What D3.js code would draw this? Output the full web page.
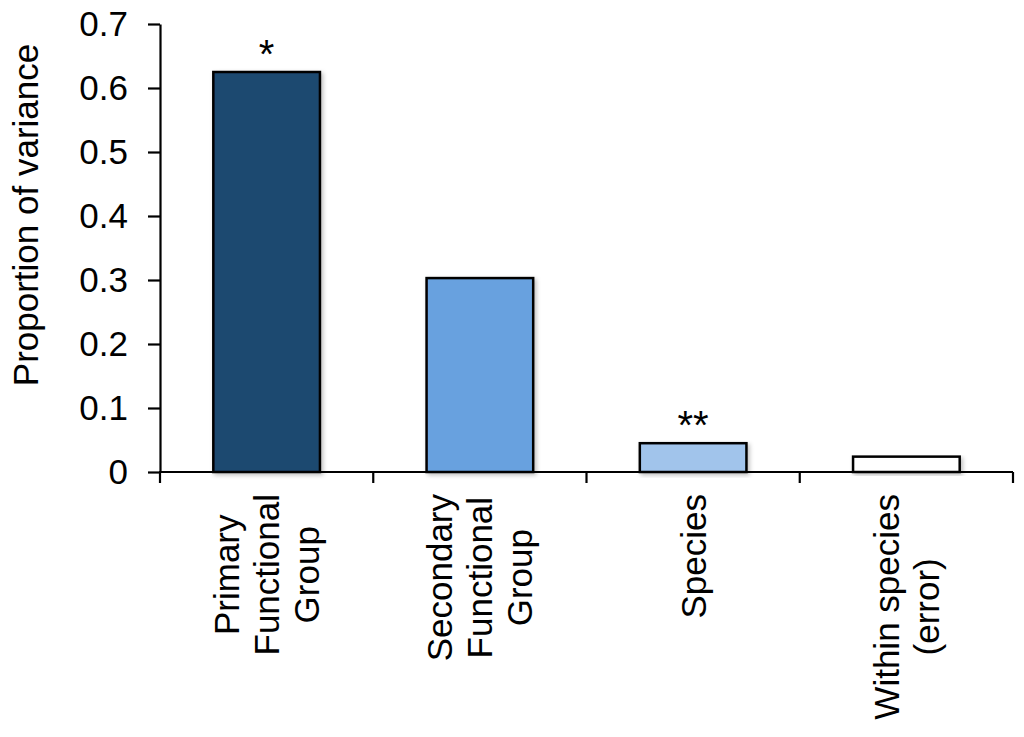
<!DOCTYPE html>
<html>
<head>
<meta charset="utf-8">
<script src="https://cdn.jsdelivr.net/npm/d3@7/dist/d3.min.js"></script>
<style>
  html, body { margin: 0; padding: 0; background: #fff; }
  svg { display: block; }
  text { font-family: "Liberation Sans", Arial, Helvetica, sans-serif; fill: #000; }
</style>
</head>
<body>
<svg id="chart" width="1024" height="737"></svg>
<script>
// ---- data ----
const categories = [
  ["Primary", "Functional", "Group"],
  ["Secondary", "Functional", "Group"],
  ["Species"],
  ["Within species", "(error)"]
];
const categoryKeys = ["Primary Functional Group", "Secondary Functional Group", "Species", "Within species (error)"];
const values = [0.625, 0.303, 0.045, 0.024];
const significance = ["*", "", "**", ""];
const barColors = ["#1f4870", "#67a1df", "#a1c4eb", "#ffffff"];
const yTicks = [0, 0.1, 0.2, 0.3, 0.4, 0.5, 0.6, 0.7];
const yLabel = "Proportion of variance";

// ---- layout ----
const svg = d3.select("#chart");
const plotLeft = 160, plotRight = 1013, plotTop = 24, plotBottom = 472;
const fontSize = 35;

const x = d3.scaleBand().domain(categoryKeys).range([plotLeft, plotRight])
  .paddingInner(0.5).paddingOuter(0.25);
const y = d3.scaleLinear().domain([0, 0.7]).range([plotBottom, plotTop]);

// shadow filter
const defs = svg.append("defs");
const f = defs.append("filter").attr("id", "shadow").attr("x", "-10%").attr("y", "-10%").attr("width", "130%").attr("height", "130%");
f.append("feDropShadow").attr("dx", 2).attr("dy", 2).attr("stdDeviation", 2)
  .attr("flood-color", "#000").attr("flood-opacity", 0.25);

// bars
svg.append("g").selectAll("rect").data(values).join("rect")
  .attr("x", (d, i) => x(categoryKeys[i]))
  .attr("y", d => y(d))
  .attr("width", x.bandwidth())
  .attr("height", d => y(0) - y(d))
  .attr("fill", (d, i) => barColors[i])
  .attr("stroke", "#000")
  .attr("stroke-width", 2.5)
  .attr("filter", "url(#shadow)");

// significance labels
svg.append("g").selectAll("text").data(values).join("text")
  .attr("x", (d, i) => x(categoryKeys[i]) + x.bandwidth() / 2)
  .attr("y", d => y(d) - 4)
  .attr("text-anchor", "middle")
  .style("font-size", "40px")
  .text((d, i) => significance[i]);

// y axis
const yAxis = d3.axisLeft(y).tickValues(yTicks).tickSize(12).tickSizeOuter(0).tickPadding(20)
  .tickFormat(d => d === 0 ? "0" : d3.format(".1f")(d));
const gy = svg.append("g").attr("transform", `translate(${plotLeft},0)`).call(yAxis);
gy.select(".domain").attr("stroke", "#000").attr("stroke-width", 2.2);
gy.selectAll(".tick line").attr("stroke", "#000").attr("stroke-width", 2.2);
gy.selectAll(".tick text").style("font-size", fontSize + "px").style("font-family", "'Liberation Sans', Arial, sans-serif");

// x axis line + boundary ticks
const step = x.step();
const boundaries = categoryKeys.map(k => x(k) - step * x.paddingInner() / 2);
boundaries.push(x(categoryKeys[categoryKeys.length - 1]) + x.bandwidth() + step * x.paddingInner() / 2);
const gx = svg.append("g");
gx.append("line").attr("x1", plotLeft - 1).attr("x2", plotRight).attr("y1", y(0)).attr("y2", y(0))
  .attr("stroke", "#000").attr("stroke-width", 2.2);
gx.selectAll("line.tk").data(boundaries).join("line").attr("class", "tk")
  .attr("x1", d => d).attr("x2", d => d).attr("y1", y(0)).attr("y2", y(0) + 11)
  .attr("stroke", "#000").attr("stroke-width", 2.2);

// category labels (rotated, multi-line)
const labelTop = 494;
const lineGap = 40;
const capHalf = 12.5;
categories.forEach((lines, i) => {
  const cx = x(categoryKeys[i]) + x.bandwidth() / 2;
  const g = svg.append("g");
  const texts = lines.map((ln, j) => {
    const bx = cx + (j - (lines.length - 1) / 2) * lineGap + capHalf;
    return g.append("text")
      .attr("text-anchor", "middle")
      .style("font-size", fontSize + "px")
      .attr("data-bx", bx)
      .text(ln);
  });
  const maxLen = d3.max(texts, t => t.node().getComputedTextLength());
  const cy = labelTop + maxLen / 2;
  texts.forEach(t => {
    const bx = +t.attr("data-bx");
    t.attr("transform", `translate(${bx},${cy}) rotate(-90)`);
  });
});

// y axis label
svg.append("text")
  .attr("transform", `translate(38,${(plotTop + plotBottom) / 2 - 33}) rotate(-90)`)
  .attr("text-anchor", "middle")
  .style("font-size", fontSize + "px")
  .text(yLabel);
</script>
</body>
</html>
